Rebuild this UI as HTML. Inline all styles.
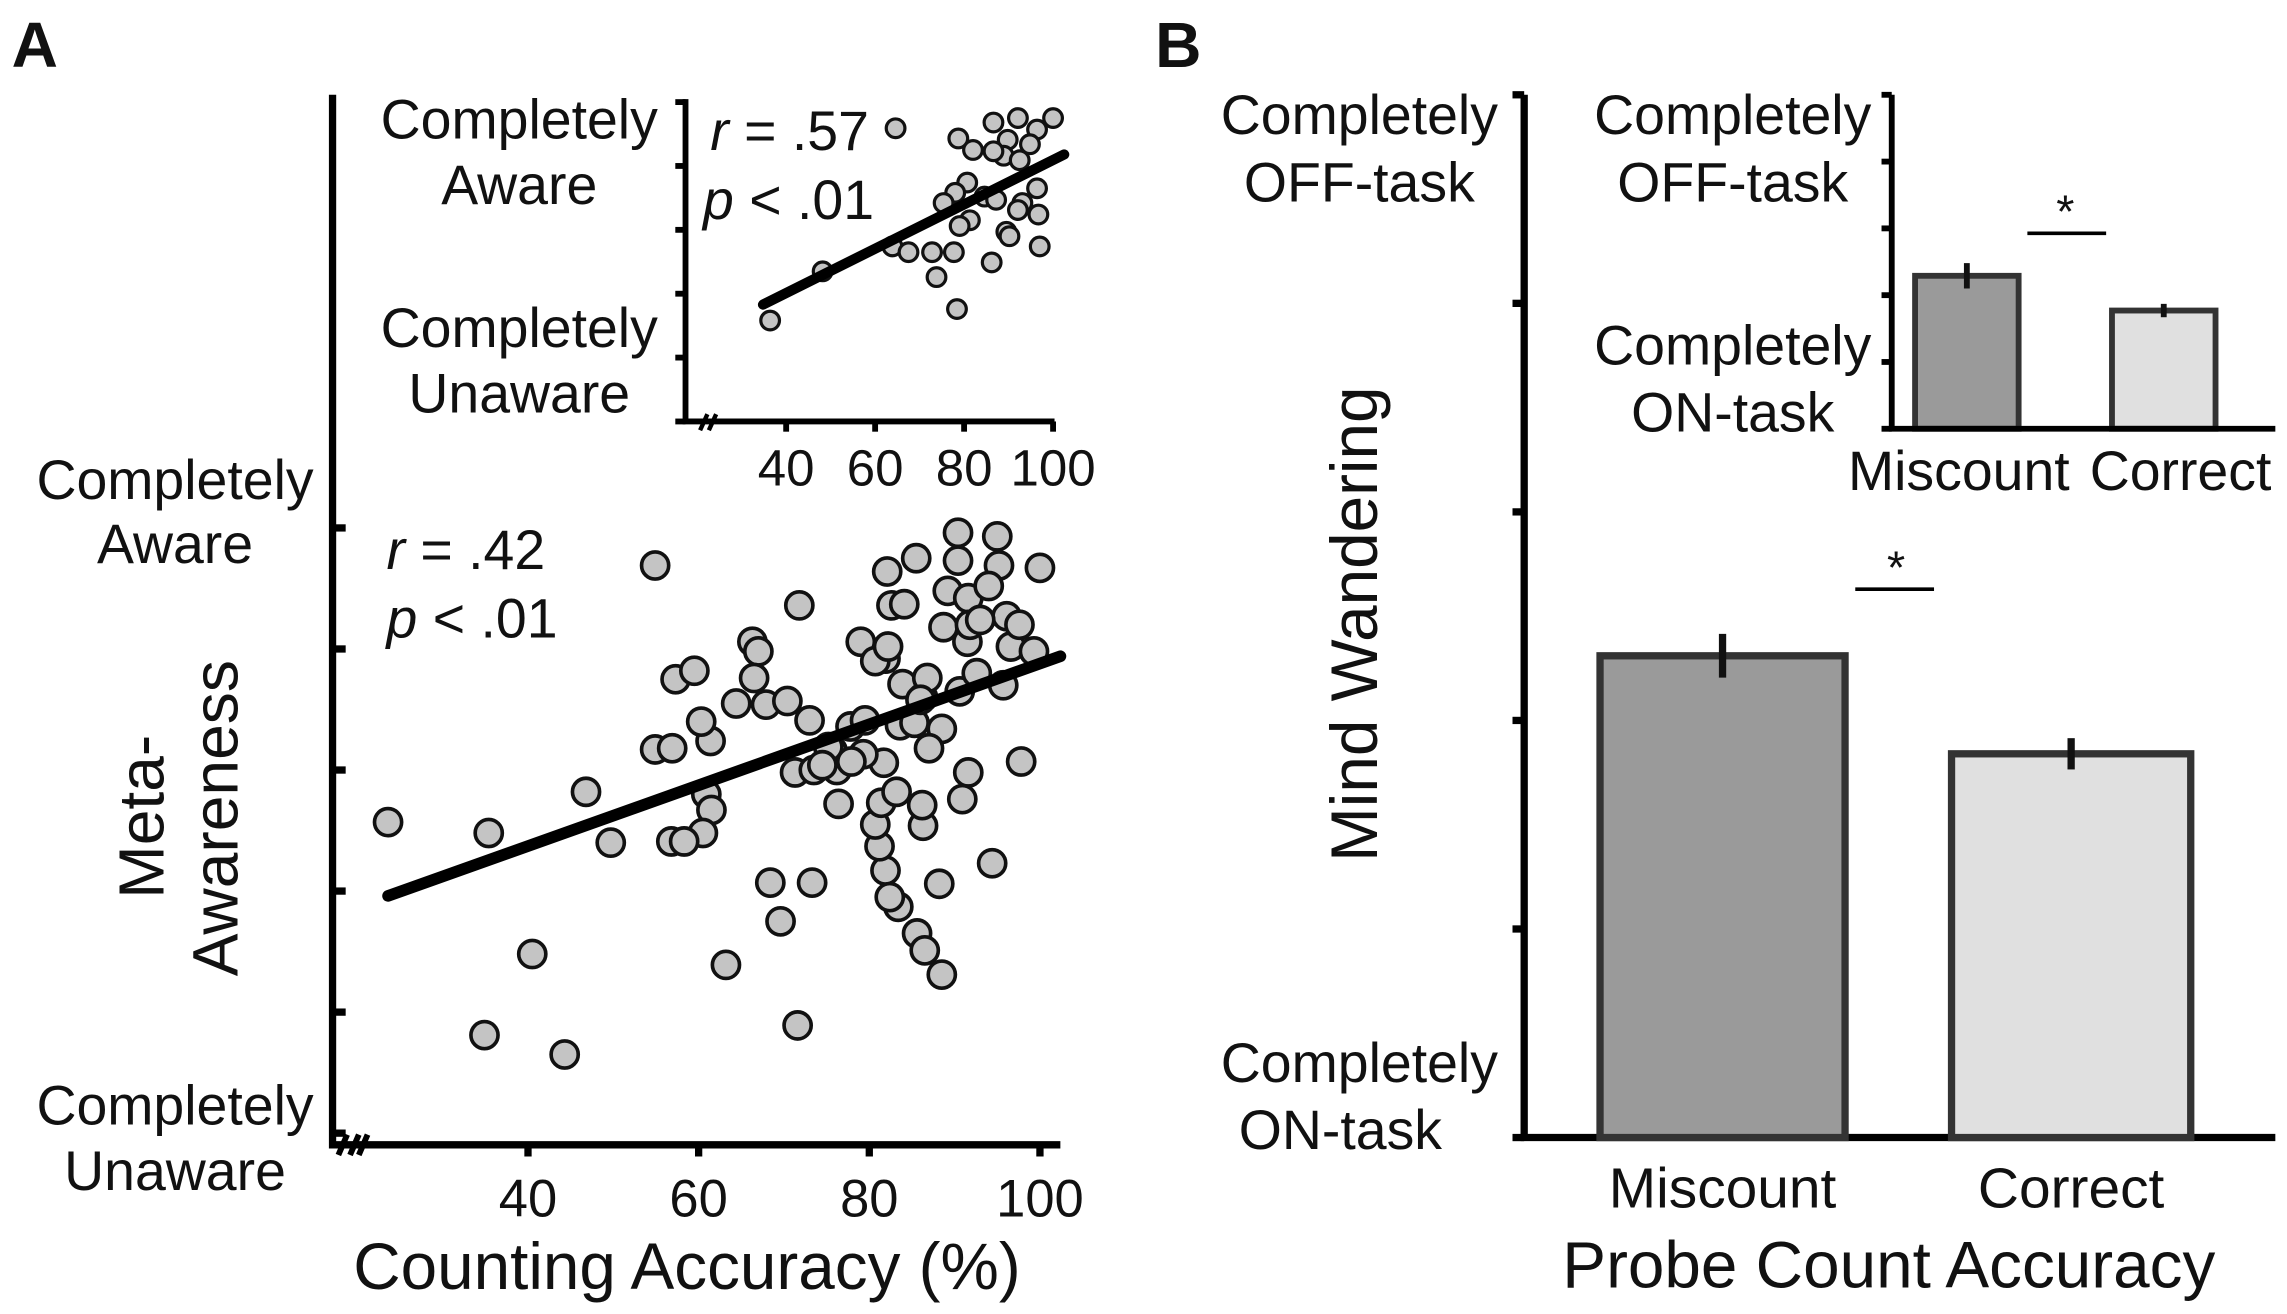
<!DOCTYPE html>
<html><head><meta charset="utf-8"><style>html,body{margin:0;padding:0;background:#fff}svg{display:block}text{font-family:"Liberation Sans",sans-serif;fill:#111}</style></head>
<body>
<svg id="fig" xmlns="http://www.w3.org/2000/svg" width="2287" height="1314" viewBox="0 0 1568 901" preserveAspectRatio="none">
<g id="gA"></g>
<g id="gB"></g>
</svg>
<script>
// Panel A main scatter data
const mainX=[23.6,35.4,46.8,49.7,40.5,34.9,44.3,54.9,57.3,59.5,54.9,56.9,61.4,60.9,61.5,60.5,56.8,58.3,63.2,68.4,73.3,69.6,71.6,71.8,66.3,67.0,66.5,64.4,67.9,70.4,73.0,71.3,73.5,75.7,77.8,76.4,76.2,79.5,79.0,82.1,85.5,82.6,84.1,81.9,80.7,82.2,83.9,86.3,86.8,90.4,95.0,95.2,90.4,89.2,91.6,94.0,96.1,96.6,97.6,100.0,99.3,97.8,94.4,91.6,90.9,88.5,87.0,86.3,88.2,85.6,86.5,88.5,83.4,81.9,81.2,80.7,81.4,81.7,83.6,85.3,86.0,90.6,92.6,91.5,88.7,91.8,93.0,95.7,83.2,86.2,82.4,79.3,75.2,74.5,77.9,60.3];
const mainY=[3.57,3.48,3.82,3.40,2.48,1.81,1.65,5.69,4.75,4.82,4.17,4.18,4.24,3.80,3.67,3.48,3.41,3.41,2.39,3.07,3.07,2.75,1.89,5.36,5.06,4.98,4.76,4.55,4.54,4.57,4.41,3.98,4.00,4.16,4.36,3.72,4.00,4.41,5.06,5.64,5.75,5.36,5.37,4.92,4.90,5.02,4.71,4.60,4.76,5.73,5.93,5.69,5.96,5.48,5.42,5.52,5.27,5.02,5.20,5.67,4.98,4.07,3.23,3.98,3.76,4.34,4.18,3.54,3.06,2.65,2.51,2.31,2.87,3.17,3.37,3.55,3.73,4.06,4.37,4.39,4.58,4.65,4.80,5.06,5.18,5.20,5.24,4.70,3.82,3.71,2.95,4.13,4.19,4.04,4.07,4.40];
const mainFitX=[23.6,102.4];
const mainFitY=[2.96,4.94];
const mainTicks=[40,60,80,100];
// Panel A inset data
const insetX=[36.4,48.2,64.6,63.9,67.5,72.8,77.7,73.8,78.4,86.2,78.7,82.0,86.6,92.1,96.4,100.0,89.8,94.8,88.9,92.5,86.6,80.7,78.0,75.4,84.6,87.2,81.3,79.0,93.1,92.1,96.4,96.7,89.5,90.2,97.0];
const insetY=[2.58,3.35,5.59,3.74,3.65,3.65,3.65,3.26,2.76,3.49,5.43,5.25,5.68,5.75,5.57,5.75,5.41,5.34,5.16,5.09,5.23,4.74,4.58,4.42,4.52,4.47,4.15,4.06,4.42,4.31,4.65,4.24,3.97,3.90,3.74];
const insetFitX=[34.8,102.5];
const insetFitY=[2.83,5.18];
const insetTicks=[40,60,80,100];
// Panel B data
const bCats=["Miscount","Correct"];
const bMain=[3.31,2.84];
const bMainErr=[0.105,0.075];
const bInset=[3.29,2.77];
const bInsetErr=[0.19,0.10];

const NS="http://www.w3.org/2000/svg";
function mk(p,tag,attrs,txt){const e=document.createElementNS(NS,tag);for(const k in attrs)e.setAttribute(k,attrs[k]);if(txt!==undefined)e.textContent=txt;p.appendChild(e);return e;}
const gA=document.getElementById('gA'), gB=document.getElementById('gB');

const mx=v=>362+(v-40)*5.85, my=v=>777-(v-1)*83;
const ix=v=>539+(v-40)*3.05, iy=v=>289-(v-1)*43.8;
const LF=38;

let t;
t=mk(gA,'text',{x:8,y:46,'font-size':44,'font-weight':'bold'},'A');



let ax=mk(gA,'path',{d:'M228,65 V785 H727',stroke:'#000','stroke-width':5,fill:'none'});


for(let v=1;v<=6;v++){const l=mk(gA,'line',{x1:228,x2:237,y1:my(v),y2:my(v),stroke:'#000','stroke-width':5});

}
mainTicks.forEach(v=>{const l=mk(gA,'line',{x1:mx(v),x2:mx(v),y1:785,y2:793,stroke:'#000','stroke-width':5});


const tl=mk(gA,'text',{x:mx(v),y:834,'font-size':36,'text-anchor':'middle'},String(v));

});
let br=mk(gA,'path',{d:'M232,792 l6,-14 M240,792 l6,-14 M246,792 l6,-14',stroke:'#000','stroke-width':4,fill:'none'});


[['Completely',120,342],['Aware',120,386],['Completely',120,771],['Unaware',120,816]].forEach(a=>{const e=mk(gA,'text',{x:a[1],y:a[2],'font-size':LF,'text-anchor':'middle'},a[0]);

});
t=mk(gA,'text',{x:0,y:0,'font-size':44,'text-anchor':'middle',transform:'translate(112,560) rotate(-90)'},'Meta-');


t=mk(gA,'text',{x:0,y:0,'font-size':44,'text-anchor':'middle',transform:'translate(163,561) rotate(-90)'},'Awareness');


t=mk(gA,'text',{x:471,y:884,'font-size':45,'text-anchor':'middle'},'Counting Accuracy (%)');


t=mk(gA,'text',{x:265,y:390,'font-size':LF},'');t.innerHTML='<tspan font-style="italic">r</tspan> = .42';


t=mk(gA,'text',{x:265,y:437,'font-size':LF},'');t.innerHTML='<tspan font-style="italic">p</tspan> &lt; .01';


mainX.forEach((v,i)=>{const c=mk(gA,'circle',{cx:mx(v),cy:my(mainY[i]),r:9.3,fill:'#c4c4c4',stroke:'#111','stroke-width':2.5});

});
let fl=mk(gA,'line',{x1:mx(mainFitX[0]),y1:my(mainFitY[0]),x2:mx(mainFitX[1]),y2:my(mainFitY[1]),stroke:'#000','stroke-width':8,'stroke-linecap':'round'});



ax=mk(gA,'path',{d:'M470,68 V289 H723',stroke:'#000','stroke-width':4,fill:'none'});


for(let v=1;v<=6;v++){const l=mk(gA,'line',{x1:463,x2:470,y1:iy(v),y2:iy(v),stroke:'#000','stroke-width':4});

}
insetTicks.forEach(v=>{const l=mk(gA,'line',{x1:ix(v),x2:ix(v),y1:289,y2:296,stroke:'#000','stroke-width':4});


const tl=mk(gA,'text',{x:ix(v),y:333,'font-size':35,'text-anchor':'middle'},String(v));

});
br=mk(gA,'path',{d:'M480,295 l5,-11 M486,295 l5,-11',stroke:'#000','stroke-width':3,fill:'none'});


[['Completely',356,95],['Aware',356,140],['Completely',356,238],['Unaware',356,283]].forEach(a=>{const e=mk(gA,'text',{x:a[1],y:a[2],'font-size':LF,'text-anchor':'middle'},a[0]);

});
t=mk(gA,'text',{x:487,y:103,'font-size':LF},'');t.innerHTML='<tspan font-style="italic">r</tspan> = .57';


t=mk(gA,'text',{x:482,y:150,'font-size':LF},'');t.innerHTML='<tspan font-style="italic">p</tspan> &lt; .01';


insetX.forEach((v,i)=>{const c=mk(gA,'circle',{cx:ix(v),cy:iy(insetY[i]),r:6.4,fill:'#c4c4c4',stroke:'#111','stroke-width':2.2});

});
fl=mk(gA,'line',{x1:ix(insetFitX[0]),y1:iy(insetFitY[0]),x2:ix(insetFitX[1]),y2:iy(insetFitY[1]),stroke:'#000','stroke-width':7,'stroke-linecap':'round'});



// Panel B
const by=v=>780-(v-1)*143, biy=v=>294-(v-1)*45.8;
const bx=[1097,1338], bw=[168,164];
const bix=[1313,1448], biw=71;
const fills=['#9a9a9a','#e0e0e0'];
t=mk(gB,'text',{x:792,y:46,'font-size':44,'font-weight':'bold'},'B');


ax=mk(gB,'path',{d:'M1045,65 V780 H1560',stroke:'#000','stroke-width':5,fill:'none'});


for(let v=1;v<=6;v++){const l=mk(gB,'line',{x1:1037,x2:1045,y1:by(v),y2:by(v),stroke:'#000','stroke-width':5});

}
[['Completely',932,92],['OFF-task',932,138],['Completely',932,742],['ON-task',919,788]].forEach(a=>{const e=mk(gB,'text',{x:a[1],y:a[2],'font-size':LF,'text-anchor':'middle'},a[0]);

});
t=mk(gB,'text',{x:0,y:0,'font-size':45,'text-anchor':'middle',transform:'translate(944,428) rotate(-90)'},'Mind Wandering');


t=mk(gB,'text',{x:1295,y:883,'font-size':45,'text-anchor':'middle'},'Probe Count Accuracy');


bCats.forEach((c,i)=>{
 const r=mk(gB,'rect',{x:bx[i],y:by(bMain[i]),width:bw[i],height:780-by(bMain[i]),fill:fills[i],stroke:'#333','stroke-width':5});
 
 
 const cx=bx[i]+bw[i]/2;
 const e=mk(gB,'line',{x1:cx,x2:cx,y1:by(bMain[i]+bMainErr[i]),y2:by(bMain[i]-bMainErr[i]),stroke:'#111','stroke-width':5});
 
 
 const tl=mk(gB,'text',{x:cx,y:828,'font-size':39,'text-anchor':'middle'},c);
 
 
 const r2=mk(gB,'rect',{x:bix[i],y:biy(bInset[i]),width:biw,height:294-biy(bInset[i]),fill:fills[i],stroke:'#333','stroke-width':4});
 
 
 const cx2=bix[i]+biw/2;
 const e2=mk(gB,'line',{x1:cx2,x2:cx2,y1:biy(bInset[i]+bInsetErr[i]),y2:biy(bInset[i]-bInsetErr[i]),stroke:'#111','stroke-width':4});
 
 
});
let s=mk(gB,'line',{x1:1272,x2:1326,y1:404,y2:404,stroke:'#000','stroke-width':2.5});


s=mk(gB,'text',{x:1300,y:400,'font-size':32,'text-anchor':'middle'},'*');


ax=mk(gB,'path',{d:'M1297,65 V294 H1560',stroke:'#000','stroke-width':4,fill:'none'});


for(let v=1;v<=6;v++){const l=mk(gB,'line',{x1:1290,x2:1297,y1:biy(v),y2:biy(v),stroke:'#000','stroke-width':4});

}
[['Completely',1188,92],['OFF-task',1188,138],['Completely',1188,250],['ON-task',1188,296]].forEach(a=>{const e=mk(gB,'text',{x:a[1],y:a[2],'font-size':LF,'text-anchor':'middle'},a[0]);

});
[['Miscount',1343],['Correct',1495]].forEach(a=>{const e=mk(gB,'text',{x:a[1],y:336,'font-size':38,'text-anchor':'middle'},a[0]);

});
s=mk(gB,'line',{x1:1390,x2:1444,y1:160,y2:160,stroke:'#000','stroke-width':2.5});


s=mk(gB,'text',{x:1416,y:156,'font-size':32,'text-anchor':'middle'},'*');


</script>
</body></html>
